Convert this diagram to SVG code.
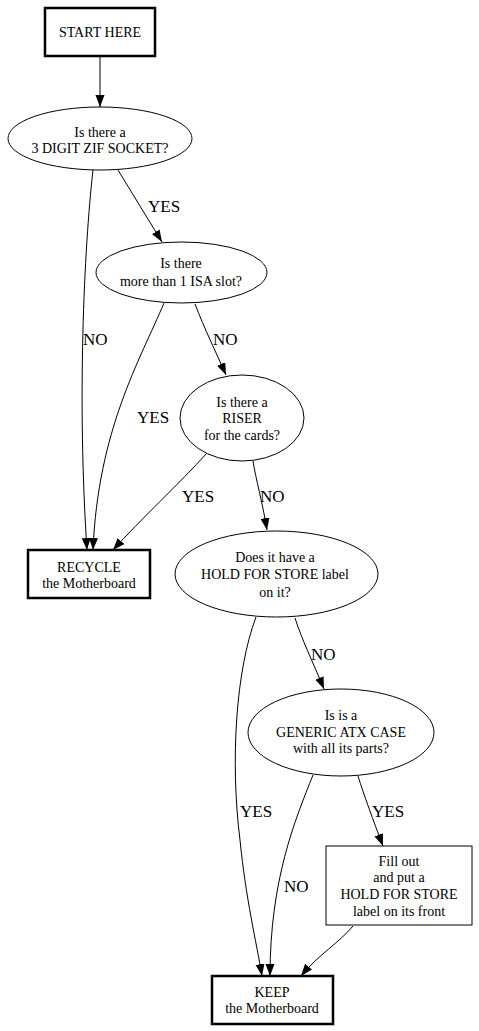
<svg xmlns="http://www.w3.org/2000/svg" width="479" height="1031" viewBox="0 0 479 1031">
<style>
.n{fill:#fff;stroke:#000;stroke-width:1}
.b{fill:#fff;stroke:#000;stroke-width:2.5}
.t{font-family:"Liberation Serif","Times New Roman",serif;font-size:14px;text-anchor:middle;fill:#000}
.l{font-family:"Liberation Serif","Times New Roman",serif;font-size:17px;fill:#000}
.e{fill:none;stroke:#000;stroke-width:1;marker-end:url(#ah)}
</style>
<defs>
<marker id="ah" markerUnits="userSpaceOnUse" markerWidth="12" markerHeight="10" refX="12" refY="4.5" orient="auto">
<path d="M0,0 L12,4.5 L0,9 z" fill="#000"/>
</marker>
</defs>
<rect width="479" height="1031" fill="#fff"/>
<g id="connectors">
<path class="e" d="M100,56 L100,107"/>
<path class="e" d="M118,170 L162,242"/>
<path class="e" d="M93,170 C84,250 77,400 87,550"/>
<path class="e" d="M195,304 C205,330 215,350 226,375"/>
<path class="e" d="M164,303 C140,360 98,430 93,550"/>
<path class="e" d="M207,453 C180,483 140,520 113,550"/>
<path class="e" d="M253,461 C256,480 262,500 267,530"/>
<path class="e" d="M295,618 C302,640 312,660 324,689"/>
<path class="e" d="M256,617 C236,670 230,760 240,840 C246,900 256,940 262,976"/>
<path class="e" d="M358,776 C364,795 373,820 383,846"/>
<path class="e" d="M313,775 C295,820 270,880 270,976"/>
<path class="e" d="M353,926 C340,942 318,955 301,976"/>
<text class="l" x="148" y="212">YES</text>
<text class="l" x="83" y="345">NO</text>
<text class="l" x="213" y="345">NO</text>
<text class="l" x="137" y="423">YES</text>
<text class="l" x="182" y="502">YES</text>
<text class="l" x="260" y="502">NO</text>
<text class="l" x="311" y="660">NO</text>
<text class="l" x="240" y="817">YES</text>
<text class="l" x="372" y="817">YES</text>
<text class="l" x="284" y="892">NO</text>
</g>
<g id="start">
<rect class="b" x="45" y="8" width="110" height="48"/>
<text class="t" x="100" y="37">START HERE</text>
</g>
<g id="zif">
<ellipse class="n" cx="100" cy="138.5" rx="92" ry="31.5"/>
<text class="t" x="100" y="137">Is there a</text>
<text class="t" x="100" y="153">3 DIGIT ZIF SOCKET?</text>
</g>
<g id="isa">
<ellipse class="n" cx="181.5" cy="272.5" rx="85.5" ry="30.5"/>
<text class="t" x="181" y="268">Is there</text>
<text class="t" x="181" y="286">more than 1 ISA slot?</text>
</g>
<g id="riser">
<ellipse class="n" cx="242" cy="418" rx="62" ry="43"/>
<text class="t" x="242" y="407">Is there a</text>
<text class="t" x="242" y="423">RISER</text>
<text class="t" x="242" y="440">for the cards?</text>
</g>
<g id="recycle">
<rect class="b" x="28" y="550" width="122" height="48"/>
<text class="t" x="89" y="572">RECYCLE</text>
<text class="t" x="89" y="588">the Motherboard</text>
</g>
<g id="holdlabel">
<ellipse class="n" cx="276.5" cy="574" rx="101.5" ry="43"/>
<text class="t" x="275" y="562">Does it have a</text>
<text class="t" x="275" y="579">HOLD FOR STORE label</text>
<text class="t" x="275" y="597">on it?</text>
</g>
<g id="atx">
<ellipse class="n" cx="341" cy="732.5" rx="93" ry="43.5"/>
<text class="t" x="341" y="720">Is is a</text>
<text class="t" x="341" y="737">GENERIC ATX CASE</text>
<text class="t" x="341" y="753">with all its parts?</text>
</g>
<g id="fillout">
<rect class="n" x="326" y="846" width="146" height="79"/>
<text class="t" x="399" y="866">Fill out</text>
<text class="t" x="399" y="882">and put a</text>
<text class="t" x="399" y="899">HOLD FOR STORE</text>
<text class="t" x="399" y="916">label on its front</text>
</g>
<g id="keep">
<rect class="b" x="212" y="976" width="121" height="48"/>
<text class="t" x="272" y="997">KEEP</text>
<text class="t" x="272" y="1013">the Motherboard</text>
</g>
</svg>
